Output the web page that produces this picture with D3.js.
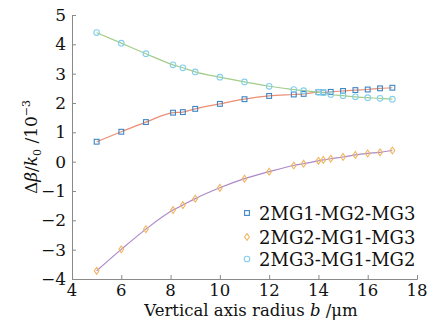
<!DOCTYPE html>
<html>
<head>
<meta charset="utf-8">
<script src="https://cdn.jsdelivr.net/npm/d3@7"></script>
<style>
  body { margin: 0; background: #fff; }
  text { font-family: "DejaVu Serif", serif; fill: #111; }
</style>
</head>
<body>
<div id="chart"></div>
<script>
(function() {
    'use strict';

    var radius = [5, 6, 7, 8.1, 8.5, 9, 10, 11, 12, 13, 13.4, 14, 14.2, 14.5, 15, 15.5, 16, 16.5, 17];
    var mg1 = [0.68, 1.02, 1.35, 1.67, 1.69, 1.80, 1.97, 2.13, 2.24, 2.29, 2.31, 2.37, 2.36, 2.38, 2.41, 2.44, 2.46, 2.50, 2.52];
    var mg2 = [-3.72, -2.99, -2.30, -1.65, -1.48, -1.26, -0.89, -0.58, -0.34, -0.13, -0.07, 0.03, 0.06, 0.10, 0.16, 0.23, 0.28, 0.32, 0.38];
    var mg3 = [4.40, 4.04, 3.68, 3.30, 3.20, 3.06, 2.88, 2.72, 2.57, 2.46, 2.42, 2.37, 2.35, 2.29, 2.25, 2.21, 2.18, 2.16, 2.13];
    var names = ['2MG1-MG2-MG3', '2MG2-MG1-MG3', '2MG3-MG1-MG2'];
    var xTicks = [4, 6, 8, 10, 12, 14, 16, 18];
    var yTicks = [-4, -3, -2, -1, 0, 1, 2, 3, 4, 5];

    var width = 442, height = 333;
    var left = 72, right = 417, top = 15, bottom = 279;

    var svg = d3.select('#chart')
      .append('svg')
        .attr('width', width)
        .attr('height', height);

    var x = d3.scaleLinear().domain([4, 18]).range([left, right]);
    var y = d3.scaleLinear().domain([-4, 5]).range([bottom, top]);

    // axes, ticks pointing inward
    var xAxis = svg.append('g')
        .attr('transform', 'translate(0,' + bottom + ')')
        .call(d3.axisTop(x).tickValues(xTicks).tickSize(4).tickFormat(''));
    var yAxis = svg.append('g')
        .attr('transform', 'translate(' + left + ',0)')
        .call(d3.axisRight(y).tickValues(yTicks).tickSize(4).tickFormat(''));
    [xAxis, yAxis].forEach(function(a) {
        a.select('.domain').attr('stroke', '#8a8a8a');
        a.selectAll('.tick line').attr('stroke', '#8a8a8a');
    });

    svg.selectAll('.xlab').data(xTicks).enter().append('text')
        .attr('x', function(d) { return x(d); })
        .attr('y', bottom + 17)
        .attr('text-anchor', 'middle')
        .attr('font-size', 16.5)
        .text(function(d) { return d; });

    svg.selectAll('.ylab').data(yTicks).enter().append('text')
        .attr('x', left - 6)
        .attr('y', function(d) { return y(d) + 6; })
        .attr('text-anchor', 'end')
        .attr('font-size', 17)
        .text(function(d) { return d < 0 ? '\u2212' + (-d) : d; });

    // x title
    var xt = svg.append('text')
        .attr('x', 251)
        .attr('y', 316)
        .attr('text-anchor', 'middle')
        .attr('font-size', 16.5);
    xt.append('tspan').text('Vertical axis radius ');
    xt.append('tspan').attr('font-style', 'italic').text('b');
    xt.append('tspan').text(' /\u03bcm');

    // y title
    var yt = svg.append('text')
        .attr('transform', 'translate(37,' + ((top + bottom) / 2) + ') rotate(-90)')
        .attr('text-anchor', 'middle')
        .attr('font-size', 17);
    yt.append('tspan').text('\u0394');
    yt.append('tspan').attr('font-style', 'italic').text('\u03b2');
    yt.append('tspan').text('/');
    yt.append('tspan').attr('font-style', 'italic').text('k');
    yt.append('tspan').attr('font-size', 11).attr('dy', 4).text('0');
    yt.append('tspan').attr('dy', -4).text(' /10');
    yt.append('tspan').attr('font-size', 11).attr('dy', -7).text('\u22123');

    var series = [
        { vals: mg1, line: '#ec8e72', mark: '#3d86c6', shape: 'square' },
        { vals: mg2, line: '#ad88c9', mark: '#f0b660', shape: 'diamond' },
        { vals: mg3, line: '#a3cd88', mark: '#84d0ec', shape: 'circle' }
    ];

    var line = d3.line()
        .x(function(d, i) { return x(radius[i]); })
        .y(function(d) { return y(d); })
        .curve(d3.curveMonotoneX);

    series.forEach(function(s) {
        svg.append('path')
            .attr('d', line(s.vals))
            .attr('fill', 'none')
            .attr('stroke', s.line)
            .attr('stroke-width', 1.2);
    });

    function marker(g, shape, color, cx, cy) {
        if (shape === 'square') {
            g.append('rect')
                .attr('x', cx - 2.4).attr('y', cy - 2.4)
                .attr('width', 4.8).attr('height', 4.8)
                .attr('fill', 'none').attr('stroke', color).attr('stroke-width', 1.1);
        } else if (shape === 'diamond') {
            g.append('path')
                .attr('d', 'M' + cx + ',' + (cy - 3.4) + 'L' + (cx + 2.4) + ',' + cy +
                           'L' + cx + ',' + (cy + 3.4) + 'L' + (cx - 2.4) + ',' + cy + 'Z')
                .attr('fill', 'none').attr('stroke', color).attr('stroke-width', 1.1);
        } else {
            g.append('circle')
                .attr('cx', cx).attr('cy', cy).attr('r', 2.8)
                .attr('fill', 'none').attr('stroke', color).attr('stroke-width', 1.1);
        }
    }

    series.forEach(function(s) {
        var g = svg.append('g');
        s.vals.forEach(function(v, i) {
            marker(g, s.shape, s.mark, x(radius[i]), y(v));
        });
    });

    // legend
    var legendY = [213, 237, 259];
    series.forEach(function(s, i) {
        var g = svg.append('g');
        marker(g, s.shape, s.mark, 247, legendY[i]);
        g.append('text')
            .attr('x', 259)
            .attr('y', legendY[i] + 6.5)
            .attr('font-size', 18)
            .text(names[i]);
    });
}());
</script>
</body>
</html>
